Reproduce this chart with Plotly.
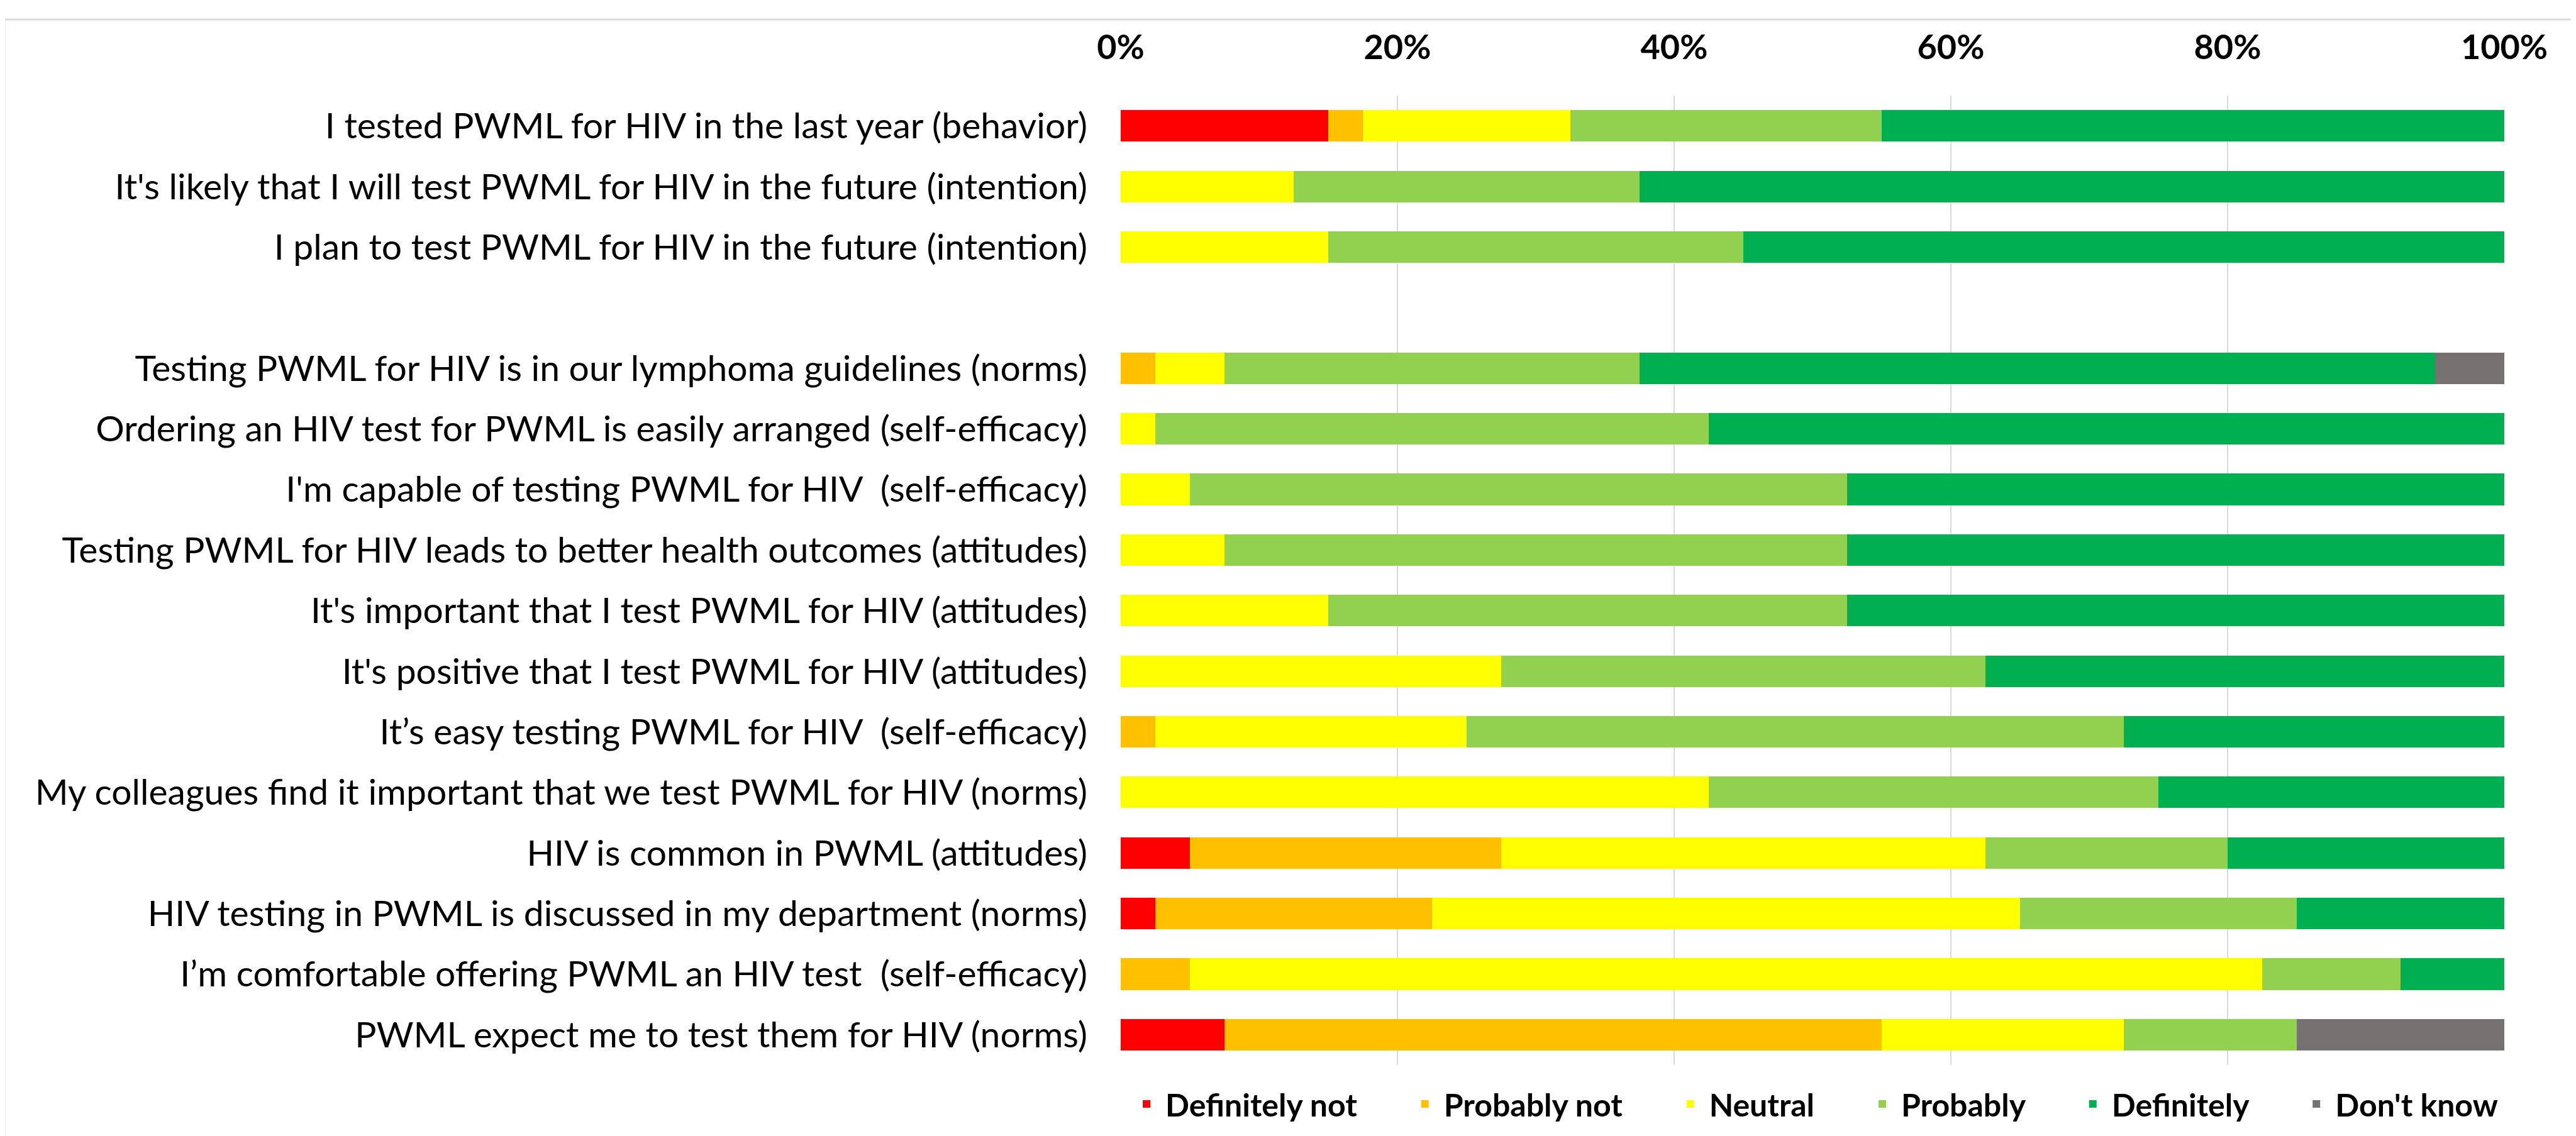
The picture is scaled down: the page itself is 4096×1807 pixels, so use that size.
import plotly.graph_objects as go

categories = [
    "I tested PWML for HIV in the last year (behavior)",
    "It's likely that I will test PWML for HIV in the future (intention)",
    "I plan to test PWML for HIV in the future (intention)",
    " ",
    "Testing PWML for HIV is in our lymphoma guidelines (norms)",
    "Ordering an HIV test for PWML is easily arranged (self-efficacy)",
    "I'm capable of testing PWML for HIV \u00a0(self-efficacy)",
    "Testing PWML for HIV leads to better health outcomes (attitudes)",
    "It's important that I test PWML for HIV (attitudes)",
    "It's positive that I test PWML for HIV (attitudes)",
    "It\u2019s easy testing PWML for HIV \u00a0(self-efficacy)",
    "My colleagues find it important that we test PWML for HIV (norms)",
    "HIV is common in PWML (attitudes)",
    "HIV testing in PWML is discussed in my department (norms)",
    "I\u2019m comfortable offering PWML an HIV test \u00a0(self-efficacy)",
    "PWML expect me to test them for HIV (norms)",
]

definitely_not = [15, 0, 0, 0, 0, 0, 0, 0, 0, 0, 0, 0, 5, 2.5, 0, 7.5]
probably_not = [2.5, 0, 0, 0, 2.5, 0, 0, 0, 0, 0, 2.5, 0, 22.5, 20, 5, 47.5]
neutral = [15, 12.5, 15, 0, 5, 2.5, 5, 7.5, 15, 27.5, 22.5, 42.5, 35, 42.5, 77.5, 17.5]
probably = [22.5, 25, 30, 0, 30, 40, 47.5, 45, 37.5, 35, 47.5, 32.5, 17.5, 20, 10, 12.5]
definitely = [45, 62.5, 55, 0, 57.5, 57.5, 47.5, 47.5, 47.5, 37.5, 27.5, 25, 20, 15, 7.5, 0]
dont_know = [0, 0, 0, 0, 5, 0, 0, 0, 0, 0, 0, 0, 0, 0, 0, 15]

series_names = ["Definitely not", "Probably not", "Neutral", "Probably", "Definitely", "Don't know"]
series_values = [definitely_not, probably_not, neutral, probably, definitely, dont_know]
series_colors = ["#FF0000", "#FFC000", "#FFFF00", "#92D050", "#00B050", "#767171"]

x_ticks = [0, 20, 40, 60, 80, 100]
x_tick_labels = ["0%", "20%", "40%", "60%", "80%", "100%"]

FONT = "Lato"
OFF = 8  # default page body margin
W, H = 4096 - OFF, 1807 - OFF
L = 1781.5 - OFF
T = 152 - OFF
R = 4096 - 3982
B = H - (1694 - OFF)

LEGEND_PAD = "\u00a0" * 6

fig = go.Figure()
for i, (name, vals, col) in enumerate(zip(series_names, series_values, series_colors)):
    label = name if i == len(series_names) - 1 else name + LEGEND_PAD
    fig.add_trace(go.Bar(
        y=categories, x=vals, name=label, orientation="h",
        marker=dict(color=col, line=dict(width=0)),
        hoverinfo="skip",
    ))

pw = W - L - R
ph = H - T - B
def px2paper_x(px):
    return (px - OFF - L) / pw
def px2paper_y(py):
    return (H - B - (py - OFF)) / ph

fig.update_layout(
    width=W, height=H,
    margin=dict(l=L, r=R, t=T, b=B, pad=0, autoexpand=False),
    barmode="stack",
    bargap=0.48,
    plot_bgcolor="white",
    paper_bgcolor="white",
    font=dict(family=FONT, color="black", size=57),
    showlegend=True,
    legend=dict(
        orientation="h",
        x=px2paper_x(3977), y=px2paper_y(1756),
        xanchor="right", yanchor="middle",
        font=dict(family=FONT, size=50, color="black", weight="bold"),
        itemwidth=50,
        traceorder="normal",
        bgcolor="rgba(0,0,0,0)",
    ),
    xaxis=dict(
        side="top", range=[0, 100],
        tickvals=x_ticks, ticktext=x_tick_labels,
        showgrid=True, gridcolor="#D9D9D9", gridwidth=1.5,
        zeroline=False, showline=False, ticks="",
        tickfont=dict(family=FONT, size=54, color="black", weight="bold"),
        ticklabelstandoff=46,
        fixedrange=True,
    ),
    yaxis=dict(
        type="category",
        categoryorder="array", categoryarray=categories,
        autorange="reversed",
        showgrid=False, zeroline=False, showline=False, ticks="",
        tickfont=dict(family=FONT, size=57, color="black"),
        ticklabelstandoff=52,
        fixedrange=True,
    ),
    shapes=[dict(
        type="rect", xref="paper", yref="paper",
        x0=px2paper_x(6), x1=px2paper_x(4094),
        y0=px2paper_y(1900), y1=px2paper_y(31),
        line=dict(color="#D9D9D9", width=3), fillcolor="rgba(0,0,0,0)",
        layer="below",
    )],
)

fig.write_html("out.html")
